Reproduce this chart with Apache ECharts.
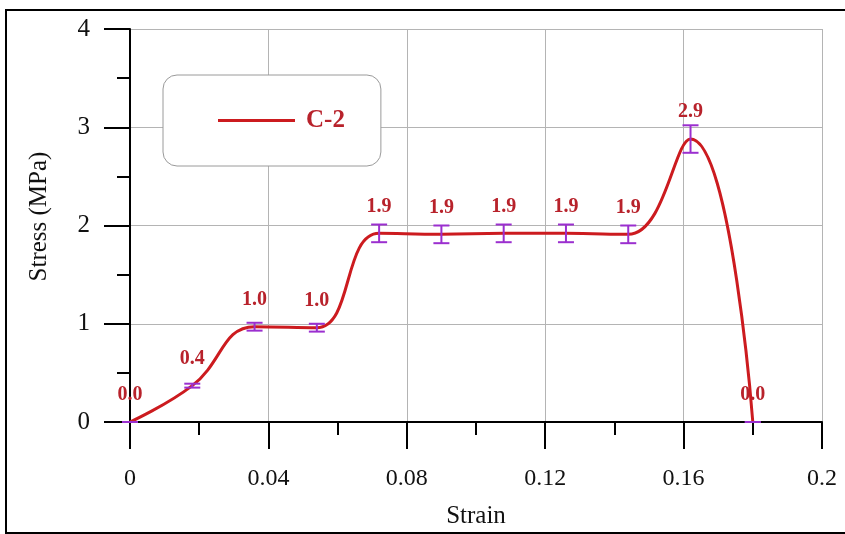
<!DOCTYPE html>
<html>
<head>
<meta charset="utf-8">
<script src="https://cdn.jsdelivr.net/npm/echarts@6/dist/echarts.min.js"></script>
<style>
  html, body { margin: 0; padding: 0; background: #ffffff; }
  #chart { width: 845px; height: 534px; }
</style>
</head>
<body>
<div id="chart"></div>
<script>
// Stress–strain curve of specimen C-2 with error bars at each sampled strain
const strain = [0, 0.018, 0.036, 0.054, 0.072, 0.09, 0.108, 0.126, 0.144, 0.162, 0.18];
const stress = [0, 0.37, 0.97, 0.96, 1.92, 1.91, 1.92, 1.92, 1.91, 2.88, 0];
const stressErr = [0, 0.02, 0.04, 0.04, 0.09, 0.09, 0.09, 0.09, 0.09, 0.14, 0];
const seriesName = 'C-2';
const xTicks = [0, 0.04, 0.08, 0.12, 0.16, 0.2];
const yTicks = [0, 1, 2, 3, 4];

const serif = '"Liberation Serif", "DejaVu Serif", serif';
const lineRed = '#cc1b1f';
const labelRed = '#b8222b';
const barPurple = '#9b2fcf';

const points = strain.map((x, i) => [x, stress[i]]);
const errPoints = strain.map((x, i) => [x, stress[i], stressErr[i]]);

const chart = echarts.init(document.getElementById('chart'), null, { renderer: 'canvas' });

chart.setOption({
  backgroundColor: '#ffffff',
  animation: false,
  grid: { left: 130, right: 23, top: 29, bottom: 109, containLabel: false },
  graphic: [{
    type: 'rect',
    shape: { x: 6, y: 10, width: 860, height: 523 },
    style: { fill: 'none', stroke: '#000', lineWidth: 2 },
    silent: true,
    z: 100
  }],
  legend: {
    data: [{ name: seriesName, icon: 'rect' }],
    left: 163, top: 75,
    orient: 'horizontal',
    padding: [33, 36, 33, 55],
    itemWidth: 77, itemHeight: 3,
    backgroundColor: '#ffffff',
    borderColor: '#9a9a9a', borderWidth: 1, borderRadius: 14,
    textStyle: { color: labelRed, fontFamily: serif, fontWeight: 'bold', fontSize: 25, padding: [0, 0, 0, 6] }
  },
  xAxis: {
    type: 'value',
    min: 0, max: 0.2, interval: 0.04,
    name: 'Strain', nameLocation: 'middle', nameGap: 82,
    nameTextStyle: { fontFamily: serif, fontSize: 25, color: '#111' },
    axisLine: { onZero: false, lineStyle: { color: '#000', width: 2 } },
    axisTick: { show: true, inside: false, length: 27, lineStyle: { color: '#000', width: 2 } },
    minorTick: { show: true, splitNumber: 2, length: 13, lineStyle: { color: '#000', width: 2 } },
    axisLabel: {
      margin: 45, fontFamily: serif, fontSize: 24, color: '#111',
      formatter: v => { const t = xTicks.find(k => Math.abs(k - v) < 1e-9); return t === undefined ? '' : String(t); }
    },
    splitLine: { show: true, lineStyle: { color: '#b4b4b4', width: 1 } }
  },
  yAxis: {
    type: 'value',
    min: 0, max: 4, interval: 1,
    name: 'Stress (MPa)', nameLocation: 'middle', nameGap: 78,
    nameTextStyle: { fontFamily: serif, fontSize: 25, color: '#111', padding: [0, 0, 0, 18] },
    axisLine: { show: true, onZero: false, lineStyle: { color: '#000', width: 2 } },
    axisTick: { show: true, inside: false, length: 26, lineStyle: { color: '#000', width: 2 } },
    minorTick: { show: true, splitNumber: 2, length: 13, lineStyle: { color: '#000', width: 2 } },
    axisLabel: {
      margin: 40, fontFamily: serif, fontSize: 25, color: '#111',
      formatter: v => { const t = yTicks.find(k => Math.abs(k - v) < 1e-9); return t === undefined ? '' : String(t); }
    },
    splitLine: { show: true, lineStyle: { color: '#b4b4b4', width: 1 } }
  },
  series: [
    {
      name: seriesName,
      type: 'line',
      data: points,
      smooth: 0.45,
      showSymbol: false,
      symbol: 'none',
      lineStyle: { color: lineRed, width: 3 },
      itemStyle: { color: lineRed },
      z: 3
    },
    {
      name: 'errorbars',
      type: 'custom',
      data: errPoints,
      renderItem: function (params, api) {
        const x = api.value(0), y = api.value(1), e = api.value(2);
        const mid = api.coord([x, y]);
        const top = api.coord([x, y + e]);
        const bot = api.coord([x, y - e]);
        const half = 8;
        const style = { stroke: barPurple, lineWidth: 2 };
        return {
          type: 'group',
          children: [
            { type: 'line', shape: { x1: top[0], y1: top[1], x2: bot[0], y2: bot[1] }, style },
            { type: 'line', shape: { x1: top[0] - half, y1: top[1], x2: top[0] + half, y2: top[1] }, style },
            { type: 'line', shape: { x1: bot[0] - half, y1: bot[1], x2: bot[0] + half, y2: bot[1] }, style },
            {
              type: 'text',
              style: {
                text: y.toFixed(1), x: mid[0], y: mid[1] - 27,
                align: 'center', verticalAlign: 'middle',
                fill: labelRed, font: 'bold 20px ' + serif
              },
              z2: 10
            }
          ]
        };
      },
      z: 4
    }
  ]
});
</script>
</body>
</html>
